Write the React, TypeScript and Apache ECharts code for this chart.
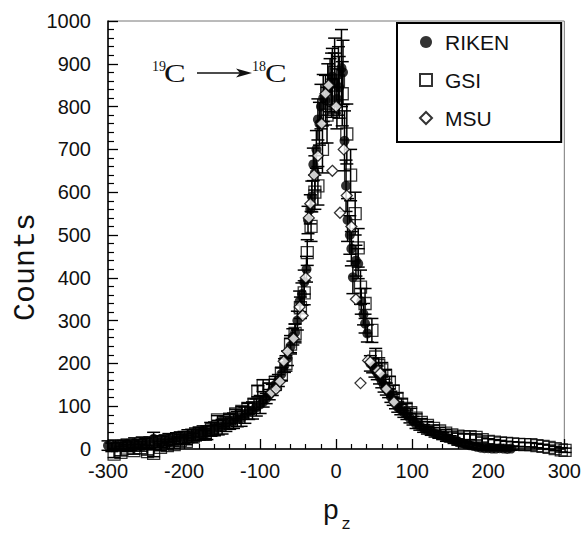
import React, { useEffect, useRef } from 'react';
import * as echarts from 'echarts';

// ---- RIKEN (filled circles, with error bars) ----
const rikenP = [
  -300, -295, -290, -285, -280, -275, -270, -265, -260, -255,
  -250, -245, -240, -235, -230, -225, -220, -215, -210, -205,
  -200, -195, -190, -185, -180, -175, -170, -165, -160, -155,
  -150, -145, -140, -135, -130, -125, -120, -115, -110, -105, -100,
  -96, -92, -88, -84, -80, -76, -72, -68, -64, -60,
  -57, -54, -51, -48, -45, -42, -39, -37, -34, -32,
  -30, -28, -26, -24, -22, -20, -17, -14, -11, -8,
  -5, -2, 1, 4, 7, 9, 11, 13, 15, 18,
  20, 22, 26, 29, 33, 36, 38, 41,
  45, 48, 51, 54, 57, 60, 63, 66, 69, 72,
  75, 78, 81, 85, 89, 93, 97, 101, 105, 110,
  115, 120, 125, 130, 135, 140, 145, 150, 155, 160,
  165, 170, 175, 180, 185, 190, 195, 200, 205, 210,
  215, 220, 225, 230,
];
const rikenCounts = [
  8, 4, 10, 6, 9, 12, 8, 14, 10, 16,
  12, 15, 24, 18, 17, 20, 22, 21, 24, 26,
  27, 30, 31, 34, 36, 38, 38, 46, 47, 50,
  52, 58, 64, 66, 70, 72, 79, 88, 90, 97, 104,
  110, 118, 127, 138, 150, 160, 175, 195, 212, 240,
  262, 272, 300, 345, 362, 390, 420, 535, 560, 590,
  665, 645, 700, 770, 760, 800, 820, 815, 840, 850,
  870, 855, 818, 845, 890, 880, 720, 615, 535, 500,
  468, 401, 440, 433, 345, 315, 293, 270,
  200, 195, 185, 178, 168, 158, 148, 140, 134, 122,
  115, 106, 98, 92, 85, 80, 72, 66, 58, 54,
  48, 44, 41, 36, 33, 30, 26, 24, 20, 16,
  14, 11, 9, 7, 5, 3, 2, 2, 1, 1,
  2, 1, 0, 1,
];
const rikenErr = [
  11, 10, 11, 10, 11, 11, 11, 12, 12, 12,
  13, 13, 15, 13, 13, 13, 14, 14, 14, 14,
  14, 15, 15, 15, 15, 16, 16, 16, 16, 17,
  17, 17, 18, 18, 18, 19, 19, 19, 20, 20, 21,
  12, 12, 12, 13, 13, 14, 15, 16, 17, 18,
  19, 20, 22, 24, 26, 28, 30, 32, 34, 36,
  38, 40, 44, 48, 50, 52, 55, 58, 60, 62,
  66, 70, 70, 72, 90, 75, 70, 60, 50, 45,
  40, 38, 36, 35, 30, 25, 22, 20,
  18, 17, 17, 16, 16, 15, 15, 14, 14, 13,
  13, 12, 12, 12, 11, 11, 11, 10, 10, 10,
  9, 9, 9, 8, 8, 8, 8, 7, 7, 7,
  6, 6, 6, 5, 5, 5, 5, 4, 4, 4,
  4, 4, 4, 4,
];

// ---- GSI (open squares, with error bars) ----
const gsiP = [
  -292, -283, -275, -266, -257, -248, -240, -231, -222, -213,
  -205, -197, -188, -180, -172, -164, -156, -148, -140, -132,
  -124, -116, -108, -103, -96, -88, -80, -72, -66, -60,
  -54, -47, -42, -38, -33, -28, -24, -18, -12, -6,
  -2, 3, 8, 14, 19, 25, 29, 32, 38, 47,
  52, 56, 60, 65, 70, 75, 80, 86, 92, 98,
  105, 112, 120, 128, 136, 144, 152, 160, 168, 176,
  184, 192, 200, 208, 216, 224, 232, 240, 248, 256,
  264, 272, 280, 288, 296, 301,
];
const gsiCounts = [
  -12, -8, 2, -4, 3, -6, -10, 4, 8, 10,
  20, 18, 28, 37, 34, 45, 68, 62, 70, 82,
  88, 95, 105, 135, 148, 140, 155, 175, 200, 245,
  270, 330, 365, 459, 520, 600, 615, 700, 780, 850,
  880, 860, 830, 736, 640, 550, 470, 378, 340, 277,
  215, 195, 185, 170, 155, 135, 118, 105, 95, 85,
  72, 62, 55, 48, 42, 37, 33, 30, 28, 29,
  27, 22, 18, 16, 14, 13, 12, 11, 10, 10,
  8, 6, 4, 1, -2, -3,
];
const gsiErr = [
  8, 8, 8, 8, 8, 8, 8, 8, 8, 8,
  8, 8, 9, 9, 9, 10, 10, 10, 10, 11,
  11, 12, 12, 13, 14, 14, 15, 16, 18, 20,
  22, 25, 28, 30, 35, 40, 45, 55, 65, 75,
  80, 80, 75, 70, 60, 50, 45, 40, 35, 28,
  20, 18, 17, 16, 15, 14, 13, 12, 11, 10,
  10, 9, 9, 8, 8, 8, 7, 7, 7, 7,
  6, 6, 6, 6, 6, 5, 5, 5, 5, 5,
  5, 5, 5, 5, 5, 5,
];

// ---- MSU (open diamonds) ----
const msuP = [
  -85, -79, -74, -69, -64, -56,
  -48, -44, -40, -36, -34, -29, -24, -19, -14, -10,
  -5, 0, 5, 10, 14, 20, 26, 32, 42,
  45, 55, 58, 66, 76,
];
const msuCounts = [
  132, 140, 158, 205, 228, 258,
  332, 312, 400, 540, 573, 640, 685, 760, 830, 850,
  650, 800, 552, 700, 592, 520, 350, 154, 207,
  203, 183, 177, 140, 110,
];

const seriesNames = ['RIKEN', 'GSI', 'MSU'];
const xTickMin = -300;
const xTickMax = 300;
const yTickMin = 0;
const yTickMax = 1000;

function zip3(p: number[], c: number[], e: number[]) {
  return p.map((x, i) => [x, c[i], e[i]]);
}
function zip2(p: number[], c: number[]) {
  return p.map((x, i) => [x, c[i]]);
}

export default function App() {
  const ref = useRef<HTMLDivElement>(null);
  useEffect(() => {
    const chart = echarts.init(ref.current!, null, { renderer: 'svg' });
    const errorBar = (params: any, api: any) => {
      const x = api.value(0);
      const y = api.value(1);
      const e = api.value(2);
      const hi = api.coord([x, y + e]);
      const lo = api.coord([x, y - e]);
      const w = 6.5;
      const style = { stroke: '#000', lineWidth: 1.5, fill: 'none' };
      return {
        type: 'group',
        children: [
          { type: 'line', shape: { x1: hi[0], y1: hi[1], x2: lo[0], y2: lo[1] }, style },
          { type: 'line', shape: { x1: hi[0] - w, y1: hi[1], x2: hi[0] + w, y2: hi[1] }, style },
          { type: 'line', shape: { x1: lo[0] - w, y1: lo[1], x2: lo[0] + w, y2: lo[1] }, style },
        ],
      };
    };
    const tickFont = { fontSize: 20, fontFamily: 'Liberation Sans', color: '#111' };
    chart.setOption({
      animation: false,
      backgroundColor: '#fff',
      grid: {
        left: 108, right: 19, top: 21, bottom: 84,
        show: true, borderColor: '#777', borderWidth: 1, backgroundColor: 'transparent',
      },
      xAxis: {
        type: 'value', min: xTickMin, max: xTickMax, interval: 100,
        axisLine: { show: true, onZero: false, lineStyle: { color: '#000', width: 1.5 } },
        axisTick: { show: true, inside: true, length: 10, lineStyle: { color: '#000', width: 1.3 } },
        minorTick: { show: true, splitNumber: 5, length: 5, lineStyle: { color: '#000', width: 1.2 } },
        splitLine: { show: false },
        axisLabel: { margin: 12, formatter: (v: number) => String(v), ...tickFont },
      },
      yAxis: {
        type: 'value', min: yTickMin, max: yTickMax, interval: 100,
        axisLine: { show: true, onZero: false, lineStyle: { color: '#000', width: 1.5 } },
        axisTick: { show: true, inside: true, length: 10, lineStyle: { color: '#000', width: 1.3 } },
        minorTick: { show: true, splitNumber: 5, length: 6, lineStyle: { color: '#000', width: 1.2 } },
        splitLine: { show: false },
        axisLabel: { margin: 17, formatter: (v: number) => String(v), ...tickFont },
      },
      legend: {
        orient: 'vertical',
        left: 397, top: 23,
        padding: [8, 52, 13, 22],
        itemWidth: 12, itemHeight: 12, itemGap: 16,
        borderColor: '#000', borderWidth: 2, backgroundColor: '#fff',
        textStyle: { fontSize: 21, fontFamily: 'Liberation Sans', color: '#111', lineHeight: 22, padding: [0, 0, 0, 8] },
        data: [
          { name: seriesNames[0], icon: 'circle' },
          { name: seriesNames[1], icon: 'rect' },
          { name: seriesNames[2], icon: 'diamond' },
        ],
      },
      series: [
        {
          name: 'GSI-err', type: 'custom', renderItem: errorBar, z: 2,
          encode: { x: 0, y: 1 }, data: zip3(gsiP, gsiCounts, gsiErr), silent: true,
        },
        {
          name: 'RIKEN-err', type: 'custom', renderItem: errorBar, z: 2,
          encode: { x: 0, y: 1 }, data: zip3(rikenP, rikenCounts, rikenErr), silent: true,
        },
        {
          name: seriesNames[1], type: 'scatter', symbol: 'rect', symbolSize: 12, z: 3, clip: false,
          itemStyle: { color: 'rgba(255,255,255,0)', borderColor: '#000', borderWidth: 1.3 },
          data: zip2(gsiP, gsiCounts),
        },
        {
          name: seriesNames[0], type: 'scatter', symbol: 'circle', symbolSize: 10, z: 4, clip: false,
          itemStyle: { color: '#000' },
          data: zip2(rikenP, rikenCounts),
        },
        {
          name: seriesNames[2], type: 'scatter', symbol: 'diamond', symbolSize: 11, z: 5, clip: false,
          itemStyle: { color: '#fff', borderColor: '#000', borderWidth: 1.3 },
          data: zip2(msuP, msuCounts),
        },
      ],
      graphic: [
        {
          type: 'text', x: 26, y: 267, rotation: Math.PI / 2,
          style: { text: 'Counts', fontFamily: 'Liberation Mono', fontSize: 30, fill: '#111', align: 'center', verticalAlign: 'middle' },
        },
        {
          type: 'text', x: 331, y: 511,
          style: { text: 'p', fontFamily: 'Liberation Mono', fontSize: 28, fill: '#111', align: 'center', verticalAlign: 'middle' },
        },
        {
          type: 'text', x: 346, y: 525,
          style: { text: 'z', fontFamily: 'Liberation Mono', fontSize: 16, fill: '#111', align: 'center', verticalAlign: 'middle' },
        },
        {
          type: 'text', x: 152, y: 66,
          style: { text: '19', fontFamily: 'Liberation Serif', fontSize: 14, fill: '#111', align: 'left', verticalAlign: 'middle' },
        },
        {
          type: 'text', x: 164, y: 73, scaleX: 1.25,
          style: { text: 'C', fontFamily: 'Liberation Serif', fontSize: 26, fill: '#111', align: 'left', verticalAlign: 'middle' },
        },
        {
          type: 'line', shape: { x1: 197, y1: 73, x2: 242, y2: 73 },
          style: { stroke: '#111', lineWidth: 1.6 },
        },
        {
          type: 'polygon', shape: { points: [[236, 68.5], [252, 73], [236, 77.5], [240, 73]] },
          style: { fill: '#111' },
        },
        {
          type: 'text', x: 252, y: 66,
          style: { text: '18', fontFamily: 'Liberation Serif', fontSize: 14, fill: '#111', align: 'left', verticalAlign: 'middle' },
        },
        {
          type: 'text', x: 265, y: 73, scaleX: 1.25,
          style: { text: 'C', fontFamily: 'Liberation Serif', fontSize: 26, fill: '#111', align: 'left', verticalAlign: 'middle' },
        },
      ],
    });
    return () => chart.dispose();
  }, []);
  return <div ref={ref} style={{ position: 'fixed', left: 0, top: 0, width: 584, height: 533 }} />;
}
